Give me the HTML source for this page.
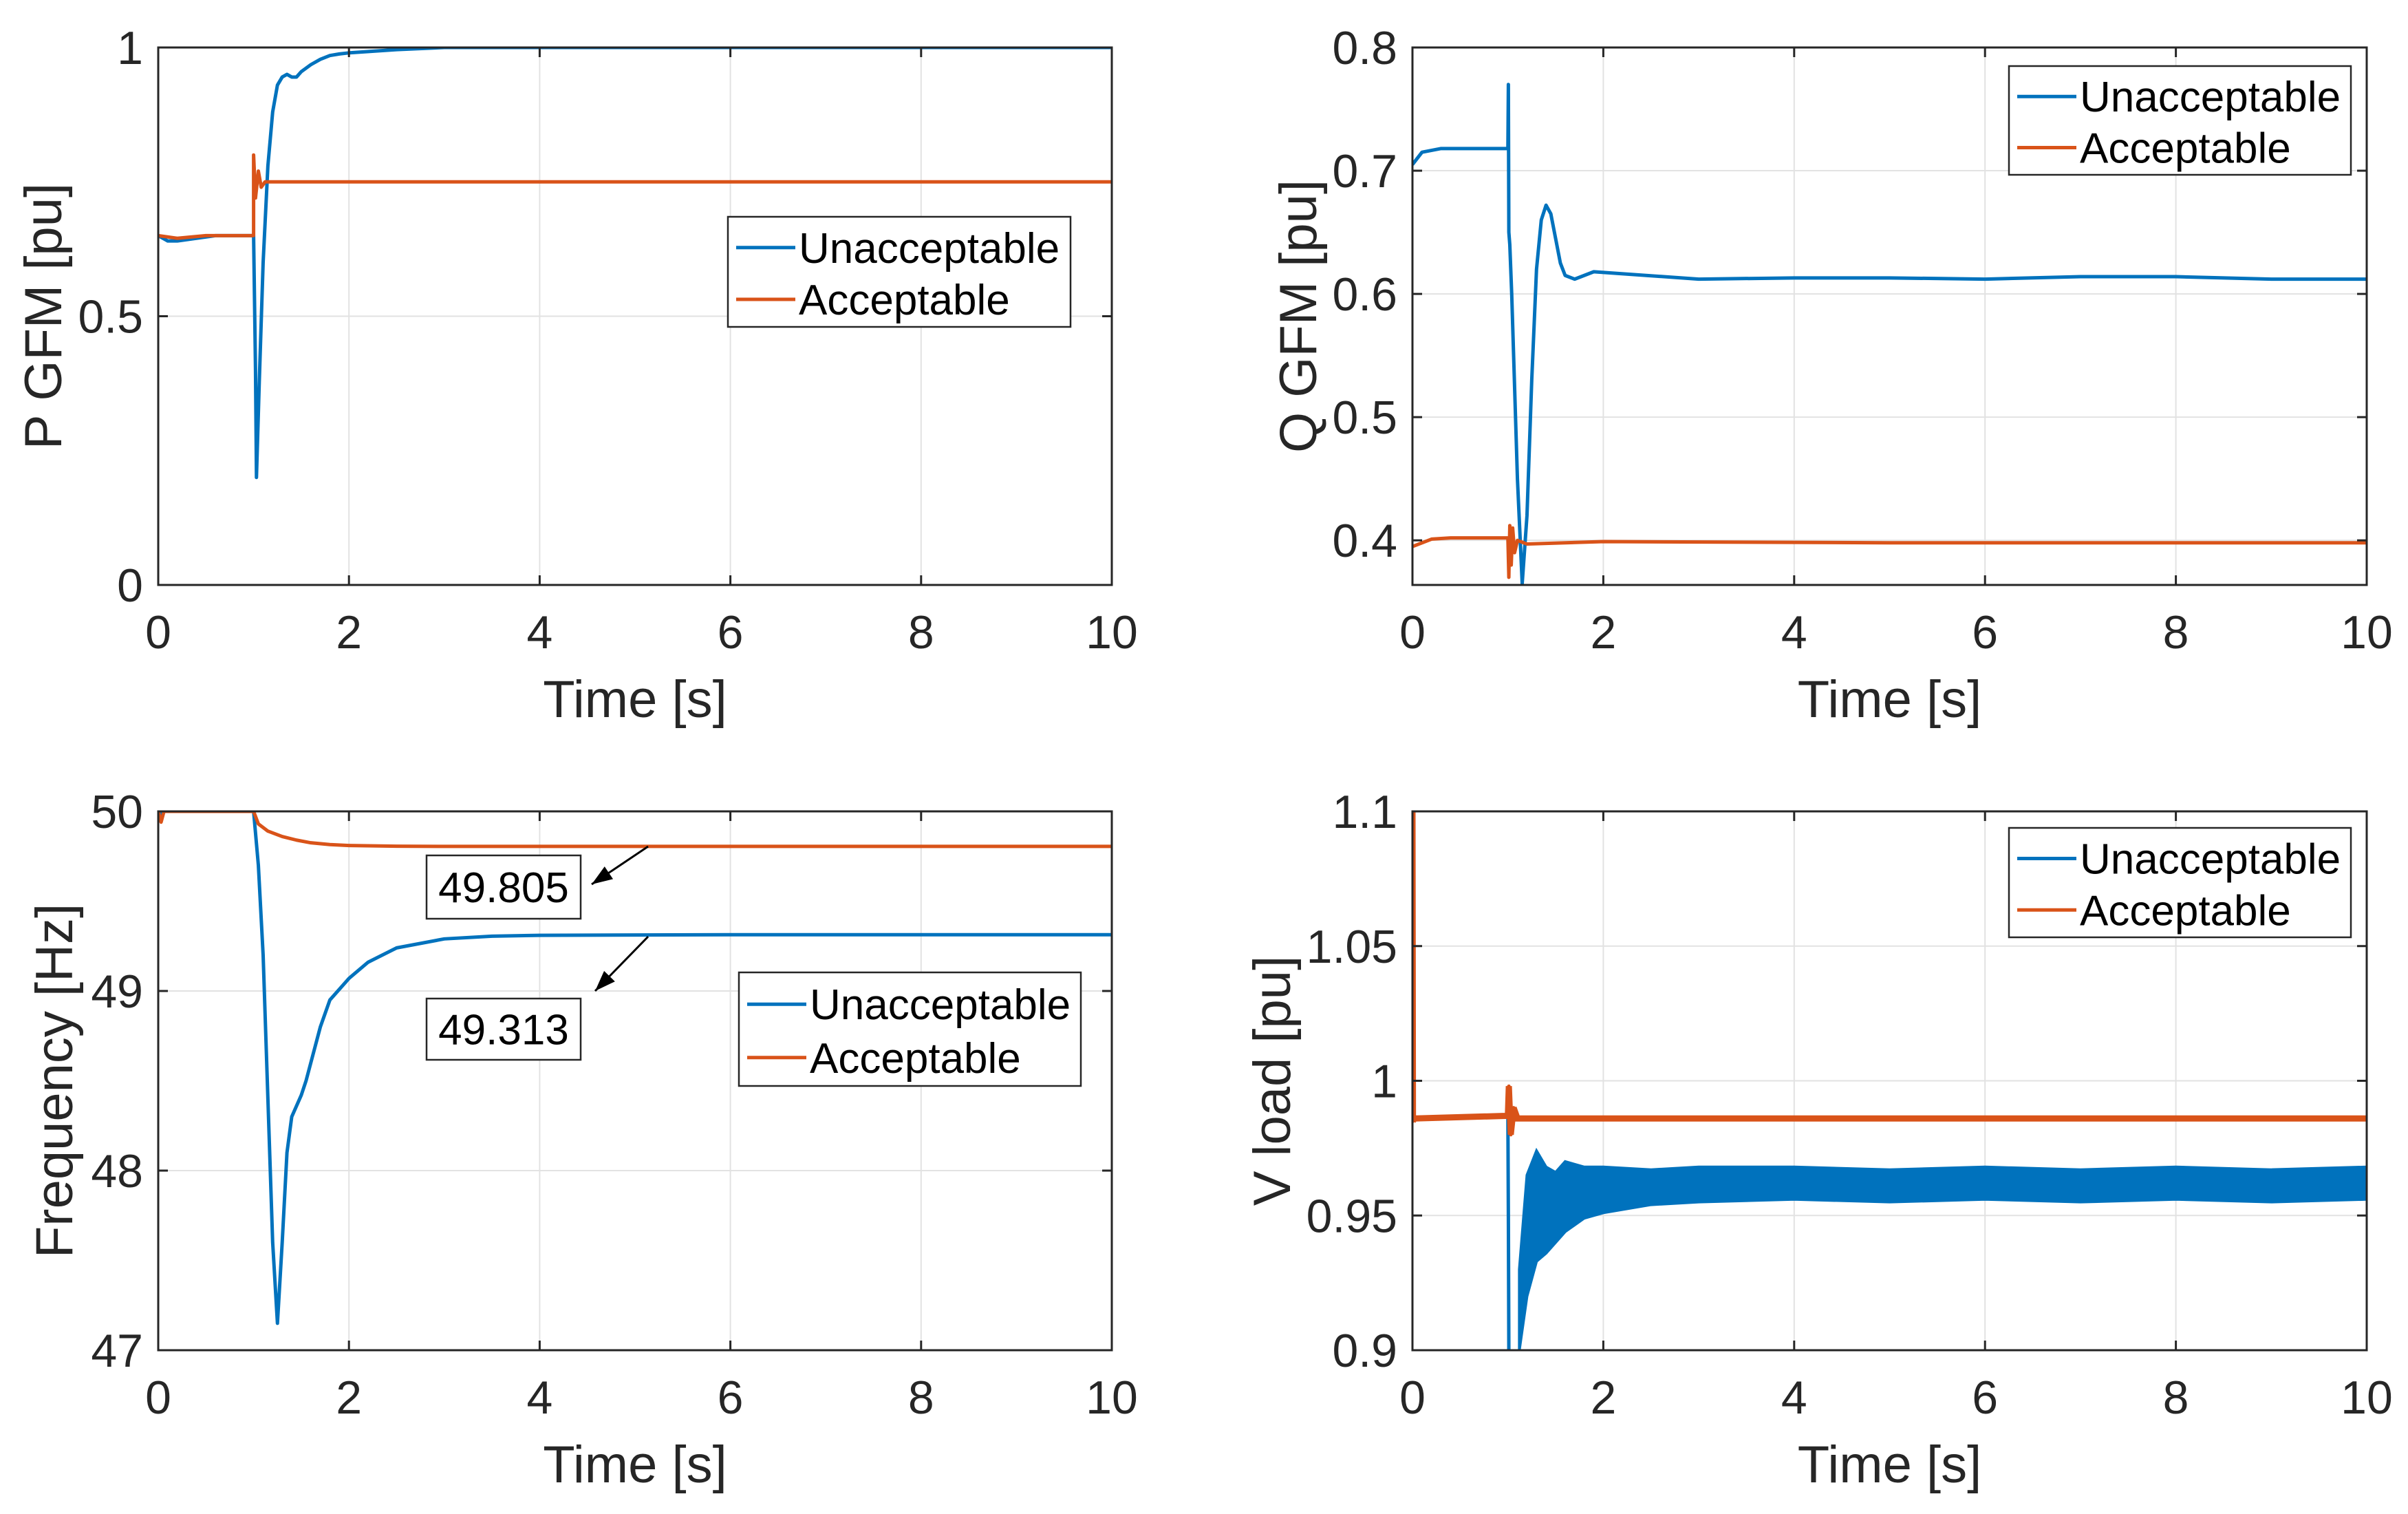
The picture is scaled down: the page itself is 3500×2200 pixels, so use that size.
<!DOCTYPE html>
<html><head><meta charset="utf-8"><style>
html,body{margin:0;padding:0;background:#fff;}
svg{display:block;font-family:"Liberation Sans",Arial,sans-serif;}
</style></head><body>
<svg id="fig" width="3500" height="2200" viewBox="0 0 3500 2200" xmlns="http://www.w3.org/2000/svg"></svg>
<script>
// ---- data ----
const xTicks=[0,2,4,6,8,10];
const pUnT=[0,0.1,0.2,0.4,0.6,1.0,1.02,1.03,1.06,1.1,1.15,1.2,1.25,1.3,1.35,1.4,1.45,1.5,1.6,1.7,1.8,1.9,2,2.5,3,10];
const pUnV=[0.65,0.64,0.64,0.645,0.65,0.65,0.4,0.2,0.38,0.6,0.78,0.88,0.93,0.945,0.95,0.945,0.945,0.955,0.968,0.978,0.985,0.988,0.99,0.996,1.0,1.0];
const pAcT=[0,0.2,0.5,1.0,1.0,1.02,1.05,1.08,1.12,10];
const pAcV=[0.65,0.645,0.65,0.65,0.8,0.72,0.77,0.74,0.75,0.75];
const qUnT=[0,0.1,0.3,1.0,1.005,1.01,1.02,1.04,1.1,1.15,1.2,1.25,1.3,1.35,1.4,1.45,1.5,1.55,1.6,1.7,1.8,1.9,3,4,5,6,7,8,9,10];
const qUnV=[0.705,0.715,0.718,0.718,0.77,0.65,0.64,0.6,0.45,0.365,0.42,0.53,0.62,0.66,0.672,0.665,0.645,0.625,0.615,0.612,0.615,0.618,0.612,0.613,0.613,0.612,0.614,0.614,0.612,0.612];
const qAcT=[0,0.2,0.4,1.0,1.01,1.02,1.035,1.05,1.07,1.1,1.2,2,5,10];
const qAcV=[0.395,0.401,0.402,0.402,0.37,0.412,0.38,0.41,0.39,0.4,0.397,0.399,0.398,0.398];
const fUnT=[0,0.03,0.06,1.0,1.05,1.1,1.15,1.2,1.25,1.3,1.35,1.4,1.5,1.55,1.6,1.7,1.8,2.0,2.2,2.5,3,3.5,4,6,8,10];
const fUnV=[49.95,50,50,50,49.7,49.2,48.4,47.6,47.15,47.6,48.1,48.3,48.42,48.5,48.6,48.8,48.95,49.07,49.16,49.24,49.29,49.305,49.31,49.313,49.313,49.313];
const fAcT=[0,0.03,0.06,1.0,1.05,1.15,1.3,1.45,1.6,1.8,2.0,2.5,3,10];
const fAcV=[50,49.94,50,50,49.93,49.89,49.86,49.84,49.825,49.815,49.81,49.806,49.805,49.805];
const vAcT=[0,0.005,0.02,1.0,1.01,1.03,1.06,1.1,10];
const vAcV=[1.1,0.985,0.986,0.987,0.998,0.98,0.99,0.986,0.986];
const vUnT=[0,0.02,1.0,1.005,1.01];
const vUnV=[0.987,0.986,0.987,0.95,0.9];
const vBandT=[1.12,1.2,1.3,1.4,1.5,1.6,1.8,2,2.5,3,4,5,6,7,8,9,10];
const vBandHi=[0.93,0.965,0.974,0.968,0.966,0.97,0.968,0.968,0.967,0.968,0.968,0.967,0.968,0.967,0.968,0.967,0.968];
const vBandLo=[0.9,0.92,0.933,0.936,0.94,0.944,0.949,0.951,0.954,0.955,0.956,0.955,0.956,0.955,0.956,0.955,0.956];

const NS="http://www.w3.org/2000/svg";
const svg=document.getElementById('fig');
const BLUE="#0072BD",ORANGE="#D95319";
function mk(tag,attrs,parent){const e=document.createElementNS(NS,tag);for(const k in attrs)e.setAttribute(k,attrs[k]);(parent||svg).appendChild(e);return e;}

function axes(name,x0,x1,y0,y1,ymin,ymax,yTicks,yLabels,ylabel,yoff){
  const g=mk('g',{});
  
  
  const sx=t=>x0+(t-0)/(10-0)*(x1-x0);
  const sy=v=>y1-(v-ymin)/(ymax-ymin)*(y1-y0);
  xTicks.forEach(t=>{const l=mk('line',{x1:sx(t),x2:sx(t),y1:y0,y2:y1,stroke:'#e2e2e2','stroke-width':2},g);
    });
  yTicks.forEach(v=>{const l=mk('line',{x1:x0,x2:x1,y1:sy(v),y2:sy(v),stroke:'#e2e2e2','stroke-width':2},g);
    });
  const clip=mk('clipPath',{id:'c'+name},g);mk('rect',{x:x0,y:y0,width:x1-x0,height:y1-y0},clip);
  const plot=mk('g',{'clip-path':'url(#c'+name+')'},g);
  xTicks.forEach(t=>{mk('line',{x1:sx(t),x2:sx(t),y1:y1,y2:y1-14,stroke:'#262626','stroke-width':3},g);mk('line',{x1:sx(t),x2:sx(t),y1:y0,y2:y0+14,stroke:'#262626','stroke-width':3},g);
    const tx=mk('text',{x:sx(t),y:y1+92,'font-size':68,'text-anchor':'middle',fill:'#262626'},g);tx.textContent=t;
    });
  yTicks.forEach((v,i)=>{mk('line',{x1:x0,x2:x0+14,y1:sy(v),y2:sy(v),stroke:'#262626','stroke-width':3},g);mk('line',{x1:x1,x2:x1-14,y1:sy(v),y2:sy(v),stroke:'#262626','stroke-width':3},g);
    const tx=mk('text',{x:x0-22,y:sy(v)+24,'font-size':68,'text-anchor':'end',fill:'#262626'},g);tx.textContent=yLabels[i];
    });
  const xl=mk('text',{x:(x0+x1)/2,y:y1+192,'font-size':76,'text-anchor':'middle',fill:'#262626'},g);xl.textContent='Time [s]';
  
  const yc=(y0+y1)/2, yx=x0-yoff;
  const yl=mk('text',{x:yx,y:yc,'font-size':76,'text-anchor':'middle',fill:'#262626',transform:`rotate(-90 ${yx} ${yc})`},g);yl.textContent=ylabel;
  
  return {g,plot,sx,sy,x0,x1,y0,y1};
}
function line(ax,T,V,color,name){
  const p=mk('polyline',{points:T.map((t,i)=>ax.sx(t)+','+ax.sy(V[i])).join(' '),fill:'none',stroke:color,'stroke-width':5,'stroke-linejoin':'round'},ax.plot);
  
}
function box(ax){mk('rect',{x:ax.x0,y:ax.y0,width:ax.x1-ax.x0,height:ax.y1-ax.y0,fill:'none',stroke:'#262626','stroke-width':3},ax.g);}
function legend(ax,x,y,w,h,name){
  const g=mk('g',{},ax.g);
  
  mk('rect',{x:x,y:y,width:w,height:h,fill:'#fff',stroke:'#262626','stroke-width':2.5},g);
  [['Unacceptable',BLUE],['Acceptable',ORANGE]].forEach((e,i)=>{
    const cy=y+h*(0.28+0.47*i);
    const en=mk('g',{},g);
    mk('line',{x1:x+12,x2:x+98,y1:cy,y2:cy,stroke:e[1],'stroke-width':5},en);
    const t=mk('text',{x:x+103,y:cy+22,'font-size':62,fill:'#000'},en);t.textContent=e[0];
  });
}
function annot(ax,bx,by,bw,bh,label,ax1,ay1,ax2,ay2,name){
  const g=mk('g',{},ax.g);
  mk('line',{x1:ax1,y1:ay1,x2:ax2,y2:ay2,stroke:'#000','stroke-width':3},g);
  const ang=Math.atan2(ay2-ay1,ax2-ax1),L=30,W=11;
  const bxp=ax2-L*Math.cos(ang),byp=ay2-L*Math.sin(ang);
  mk('polygon',{points:`${ax2},${ay2} ${bxp-W*Math.sin(ang)},${byp+W*Math.cos(ang)} ${bxp+W*Math.sin(ang)},${byp-W*Math.cos(ang)}`,fill:'#000'},g);
  mk('rect',{x:bx,y:by,width:bw,height:bh,fill:'#fff',stroke:'#262626','stroke-width':2.5},g);
  const t=mk('text',{x:bx+bw/2,y:by+bh/2+22,'font-size':62,'text-anchor':'middle',fill:'#000'},g);t.textContent=label;
}

let a=axes('p-gfm-chart',230,1616,69,850,0,1,[0,0.5,1],['0','0.5','1'],'P GFM [pu]',141);
line(a,pUnT,pUnV,BLUE,'p-unacceptable-line');line(a,pAcT,pAcV,ORANGE,'p-acceptable-line');box(a);
legend(a,1058,315,498,160,'p-legend');
a=axes('q-gfm-chart',2053,3440,69,850,0.3638,0.8,[0.4,0.5,0.6,0.7,0.8],['0.4','0.5','0.6','0.7','0.8'],'Q GFM [pu]',140);
line(a,qUnT,qUnV,BLUE,'q-unacceptable-line');line(a,qAcT,qAcV,ORANGE,'q-acceptable-line');box(a);
legend(a,2920,96,497,158,'q-legend');
a=axes('frequency-chart',230,1616,1179,1962,47,50,[47,48,49,50],['47','48','49','50'],'Frequency [Hz]',125);
line(a,fUnT,fUnV,BLUE,'f-unacceptable-line');line(a,fAcT,fAcV,ORANGE,'f-acceptable-line');box(a);
legend(a,1074,1413,497,165,'f-legend');
annot(a,620,1243,224,92,'49.805',942,1230,860,1285,'annotation-49805');
annot(a,620,1451,224,89,'49.313',942,1361,865,1440,'annotation-49313');
a=axes('v-load-chart',2053,3440,1179,1962,0.9,1.1,[0.9,0.95,1,1.05,1.1],['0.9','0.95','1','1.05','1.1'],'V load [pu]',178);
const pts=vBandT.map((t,i)=>a.sx(t)+','+a.sy(vBandHi[i])).concat(vBandT.slice().reverse().map((t,i)=>a.sx(t)+','+a.sy(vBandLo[vBandT.length-1-i])));
const band=mk('polygon',{points:pts.join(' '),fill:BLUE,stroke:BLUE,'stroke-width':4},a.plot);


line(a,vUnT,vUnV,BLUE,'v-unacceptable-line');line(a,vAcT,vAcV,ORANGE,'v-acceptable-line');
const thick=mk('polyline',{points:vAcT.map((t,i)=>a.sx(t)+','+a.sy(vAcV[i])).join(' '),fill:'none',stroke:ORANGE,'stroke-width':9},a.plot);


box(a);
legend(a,2920,1203,497,159,'v-legend');
</script>
</body></html>
